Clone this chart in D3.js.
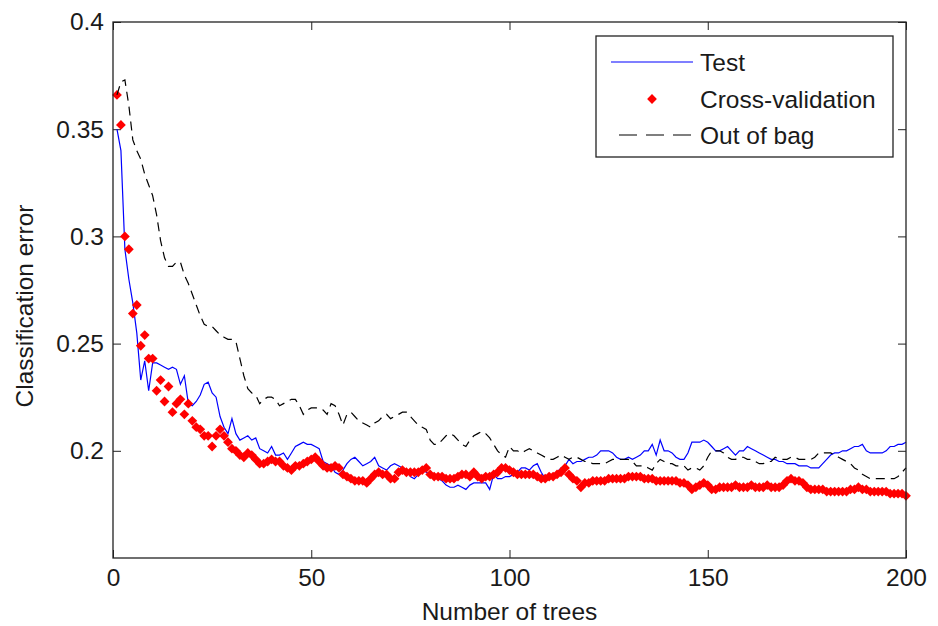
<!DOCTYPE html>
<html><head><meta charset="utf-8">
<script src="https://cdn.jsdelivr.net/npm/d3@7"></script>
<style>body{margin:0;background:#fff}text{font-family:"Liberation Sans",Arial,sans-serif;fill:#1a1a1a}</style>
</head><body><svg id="c" width="938" height="626"></svg>
<script>
const trees = d3.range(1, 201);
const testErr = [
0.350,0.340,0.294,0.280,0.269,0.255,0.233,0.242,0.228,0.241,
0.241,0.240,0.239,0.238,0.239,0.238,0.231,0.235,0.222,0.221,
0.223,0.226,0.231,0.232,0.227,0.225,0.216,0.211,0.208,0.215,
0.208,0.205,0.206,0.207,0.205,0.206,0.201,0.200,0.199,0.202,
0.198,0.198,0.199,0.196,0.199,0.202,0.203,0.204,0.203,0.203,
0.202,0.201,0.195,0.194,0.193,0.190,0.189,0.191,0.194,0.196,
0.197,0.195,0.193,0.194,0.195,0.197,0.193,0.192,0.191,0.193,
0.194,0.193,0.192,0.191,0.188,0.187,0.189,0.191,0.190,0.189,
0.188,0.187,0.186,0.184,0.183,0.183,0.184,0.183,0.182,0.184,
0.185,0.185,0.185,0.185,0.182,0.189,0.187,0.187,0.188,0.188,
0.189,0.190,0.192,0.192,0.191,0.193,0.194,0.190,0.187,0.188,
0.189,0.190,0.192,0.193,0.196,0.194,0.195,0.195,0.196,0.197,
0.197,0.198,0.200,0.200,0.200,0.199,0.197,0.196,0.196,0.197,
0.196,0.197,0.198,0.200,0.200,0.203,0.198,0.205,0.200,0.200,
0.199,0.197,0.196,0.196,0.199,0.204,0.204,0.204,0.205,0.204,
0.202,0.200,0.200,0.201,0.202,0.200,0.198,0.200,0.200,0.202,
0.201,0.200,0.199,0.198,0.197,0.196,0.196,0.195,0.195,0.194,
0.194,0.194,0.193,0.193,0.193,0.192,0.192,0.192,0.194,0.196,
0.198,0.199,0.199,0.200,0.200,0.201,0.202,0.202,0.203,0.200,
0.199,0.199,0.199,0.199,0.200,0.202,0.202,0.203,0.203,0.204];
const cvErr = [
0.366,0.352,0.300,0.294,0.264,0.268,0.249,0.254,0.243,0.243,
0.228,0.233,0.223,0.230,0.218,0.222,0.224,0.217,0.222,0.214,
0.211,0.210,0.207,0.207,0.202,0.207,0.210,0.207,0.204,0.201,
0.200,0.198,0.197,0.199,0.198,0.196,0.194,0.194,0.195,0.196,
0.195,0.195,0.193,0.192,0.191,0.193,0.193,0.194,0.195,0.196,
0.197,0.195,0.193,0.192,0.192,0.193,0.192,0.189,0.188,0.187,
0.186,0.186,0.186,0.185,0.187,0.189,0.190,0.189,0.189,0.187,
0.187,0.190,0.191,0.190,0.190,0.190,0.190,0.191,0.192,0.189,
0.188,0.188,0.188,0.187,0.187,0.187,0.188,0.189,0.189,0.188,
0.190,0.188,0.187,0.188,0.188,0.189,0.190,0.192,0.192,0.191,
0.190,0.189,0.189,0.189,0.189,0.189,0.188,0.187,0.187,0.188,
0.188,0.189,0.190,0.192,0.189,0.187,0.186,0.183,0.185,0.185,
0.186,0.186,0.186,0.186,0.187,0.187,0.187,0.187,0.187,0.188,
0.188,0.188,0.188,0.187,0.187,0.187,0.186,0.186,0.186,0.186,
0.186,0.186,0.185,0.185,0.184,0.182,0.183,0.184,0.185,0.184,
0.182,0.182,0.183,0.183,0.183,0.183,0.184,0.183,0.183,0.183,
0.184,0.183,0.183,0.183,0.184,0.183,0.183,0.183,0.184,0.186,
0.187,0.186,0.186,0.185,0.183,0.182,0.182,0.182,0.182,0.181,
0.181,0.181,0.181,0.181,0.181,0.182,0.182,0.183,0.182,0.182,
0.181,0.181,0.181,0.181,0.181,0.180,0.180,0.180,0.180,0.179];
const oobErr = [
0.366,0.372,0.373,0.361,0.345,0.340,0.336,0.329,0.324,0.319,
0.310,0.298,0.290,0.286,0.286,0.288,0.288,0.282,0.278,0.273,
0.268,0.263,0.259,0.258,0.258,0.256,0.254,0.253,0.252,0.252,
0.251,0.243,0.235,0.229,0.227,0.226,0.222,0.224,0.225,0.225,
0.224,0.221,0.222,0.223,0.224,0.224,0.221,0.217,0.219,0.220,
0.220,0.220,0.219,0.217,0.222,0.221,0.217,0.212,0.217,0.218,
0.216,0.214,0.213,0.212,0.211,0.213,0.214,0.216,0.217,0.215,
0.216,0.217,0.218,0.218,0.216,0.214,0.212,0.211,0.210,0.205,
0.203,0.203,0.205,0.207,0.208,0.207,0.205,0.203,0.202,0.205,
0.207,0.208,0.209,0.208,0.206,0.203,0.200,0.198,0.197,0.202,
0.200,0.200,0.199,0.200,0.201,0.200,0.199,0.198,0.197,0.196,
0.196,0.197,0.198,0.197,0.196,0.197,0.197,0.196,0.195,0.195,
0.194,0.194,0.194,0.194,0.195,0.196,0.196,0.196,0.196,0.196,
0.195,0.193,0.193,0.193,0.192,0.191,0.194,0.196,0.195,0.194,
0.194,0.193,0.193,0.193,0.191,0.192,0.192,0.191,0.193,0.197,
0.200,0.200,0.200,0.199,0.197,0.196,0.196,0.197,0.197,0.196,
0.196,0.195,0.194,0.194,0.195,0.195,0.197,0.196,0.196,0.196,
0.197,0.197,0.196,0.196,0.196,0.196,0.197,0.199,0.199,0.199,
0.199,0.198,0.197,0.196,0.195,0.194,0.192,0.191,0.189,0.188,
0.187,0.187,0.187,0.187,0.187,0.187,0.187,0.188,0.190,0.192];
const xTicks = [0, 50, 100, 150, 200];
const yTicks = [0.2, 0.25, 0.3, 0.35, 0.4];
const seriesNames = ["Test", "Cross-validation", "Out of bag"];
const xTitle = "Number of trees";
const yTitle = "Classification error";

const svg = d3.select("#c");
const L = 113, R = 906, T = 22, B = 558;
const FS = 24.5;
const x = d3.scaleLinear().domain([0, 200]).range([L, R]);
const y = d3.scaleLinear().domain([0.15, 0.4]).range([B, T]);

svg.append("rect").attr("width", 938).attr("height", 626).attr("fill", "#fff");

function styleAxis(g) {
  g.select(".domain").remove();
  g.selectAll(".tick line").attr("stroke", "#222").attr("stroke-width", 1);
  g.selectAll("text").attr("font-size", FS).attr("font-family", '"Liberation Sans",Arial,sans-serif').attr("fill", "#1a1a1a");
}
svg.append("g").attr("transform", `translate(${L},0)`)
  .call(d3.axisLeft(y).tickValues(yTicks).tickFormat(d3.format("")).tickSizeInner(-8).tickSizeOuter(0).tickPadding(9))
  .call(styleAxis);
svg.append("g").attr("transform", `translate(${R},0)`)
  .call(d3.axisRight(y).tickValues(yTicks).tickFormat("").tickSizeInner(-8).tickSizeOuter(0))
  .call(styleAxis);
svg.append("g").attr("transform", `translate(0,${B})`)
  .call(d3.axisBottom(x).tickValues(xTicks).tickFormat(d3.format("d")).tickSizeInner(-8).tickSizeOuter(0).tickPadding(11))
  .call(styleAxis);
svg.append("g").attr("transform", `translate(0,${T})`)
  .call(d3.axisTop(x).tickValues(xTicks).tickFormat("").tickSizeInner(-8).tickSizeOuter(0))
  .call(styleAxis);

const idx = d3.range(trees.length);
const lineOf = arr => d3.line().x(i => x(trees[i])).y(i => y(arr[i]));

svg.append("path").attr("d", lineOf(testErr)(idx))
  .attr("fill", "none").attr("stroke", "#0000ff").attr("stroke-width", 1.2);

const diamond = d3.symbol().type(d3.symbolSquare).size(48);
svg.append("g").selectAll("path").data(idx).join("path")
  .attr("d", diamond)
  .attr("transform", i => `translate(${x(trees[i])},${y(cvErr[i])}) rotate(45)`)
  .attr("fill", "#ff0000");

svg.append("path").attr("d", lineOf(oobErr)(idx))
  .attr("fill", "none").attr("stroke", "#000").attr("stroke-width", 1.2)
  .attr("stroke-dasharray", "9,6");

// frame
svg.append("rect").attr("x", L).attr("y", T).attr("width", R - L).attr("height", B - T)
  .attr("fill", "none").attr("stroke", "#222").attr("stroke-width", 1.3);

// titles
svg.append("text").attr("x", (L + R) / 2).attr("y", 620).attr("text-anchor", "middle")
  .attr("font-size", FS).text(xTitle);
svg.append("text").attr("transform", `translate(33,${(T + B) / 2 + 16}) rotate(-90)`)
  .attr("text-anchor", "middle").attr("font-size", FS).text(yTitle);

// legend
const lg = svg.append("g");
lg.append("rect").attr("x", 596).attr("y", 36).attr("width", 297).attr("height", 121)
  .attr("fill", "#fff").attr("stroke", "#222").attr("stroke-width", 1.3);
const rows = [62, 99, 135];
lg.append("line").attr("x1", 611).attr("x2", 693).attr("y1", rows[0]).attr("y2", rows[0])
  .attr("stroke", "#0000ff").attr("stroke-width", 1.2);
lg.append("path").attr("d", diamond).attr("transform", `translate(652,${rows[1]}) rotate(45)`).attr("fill", "#ff0000");
lg.append("line").attr("x1", 619).attr("x2", 691).attr("y1", rows[2]).attr("y2", rows[2])
  .attr("stroke", "#000").attr("stroke-width", 1.2).attr("stroke-dasharray", "18,9");
lg.selectAll("text.lbl").data(seriesNames).join("text").attr("class", "lbl")
  .attr("x", 700).attr("y", (d, i) => rows[i]).attr("dy", "0.36em")
  .attr("font-size", FS).text(d => d);
</script></body></html>
